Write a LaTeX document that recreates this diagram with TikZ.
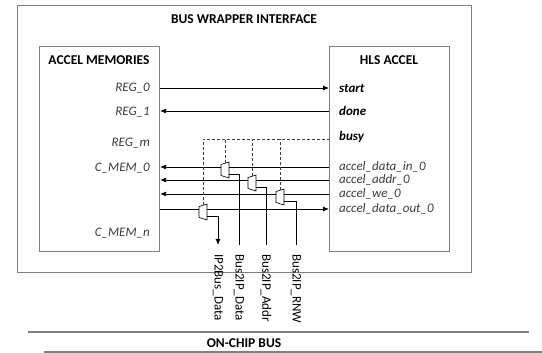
\documentclass[tikz,border=0pt]{standalone}
\usepackage{fontspec}
\setmainfont{Carlito}
\usetikzlibrary{arrows.meta}

\definecolor{framegray}{RGB}{128,128,128}
\definecolor{labelgray}{RGB}{60,60,60}

\tikzset{
  frame/.style={draw=framegray, line width=1.1pt},
  sig/.style={draw=black, line width=0.8pt},
  sigarrow/.style={sig, -{Latex[length=6pt,width=5pt]}},
  selline/.style={draw=black!75, line width=0.8pt, dash pattern=on 3pt off 2pt},
  title/.style={font=\bfseries\fontsize{13.5}{15}\selectfont, inner sep=0pt},
  memlabel/.style={anchor=east, text=labelgray, font=\itshape\fontsize{13}{15}\selectfont, inner sep=0pt},
  ctrllabel/.style={anchor=west, font=\bfseries\itshape\fontsize{13}{15}\selectfont, inner sep=0pt},
  portlabel/.style={anchor=west, text=labelgray, font=\itshape\fontsize{13}{15}\selectfont, inner sep=0pt},
  buslabel/.style={rotate=-90, anchor=west, font=\fontsize{13}{15}\selectfont, inner xsep=9pt, inner ysep=0pt},
  mux/.pic={
    \draw[black, line width=0.6pt, fill=white] (-4,-5.5) -- (4,-8) -- (4,8) -- (-4,5.5) -- cycle;
    \coordinate (-sel) at (0,-6.75);
    \coordinate (-out) at (4,4);
  }
}

\begin{document}
\begin{tikzpicture}[x=1pt,y=-1pt]
\useasboundingbox (0,0) rectangle (542,353);

% wrapper and the two blocks
\node[frame, anchor=north west, minimum width=454pt, minimum height=267pt] (wrap) at (17,5) {};
\node[title] (wraptitle) at (244,19) {BUS WRAPPER INTERFACE};

\node[frame, anchor=north west, minimum width=120pt, minimum height=205pt] (mem) at (39,46) {};
\node[title] (memtitle) at (99,60) {ACCEL MEMORIES};

\node[frame, anchor=north west, minimum width=120pt, minimum height=205pt] (hls) at (329,46) {};
\node[title] (hlstitle) at (389,60) {HLS ACCEL};

% labels, memory side
\node[memlabel] (reg0) at (150,88) {REG\_0};
\node[memlabel] (reg1) at (150,112) {REG\_1};
\node[memlabel] (regm) at (150,143) {REG\_m};
\node[memlabel] (cmem0) at (150,168) {C\_MEM\_0};
\node[memlabel] (cmemn) at (150,233) {C\_MEM\_n};

% labels, accelerator side
\node[ctrllabel] (start) at (339,88) {start};
\node[ctrllabel] (done) at (339,111) {done};
\node[ctrllabel] (busy) at (339,137) {busy};
\node[portlabel] (din) at (339,167) {accel\_data\_in\_0};
\node[portlabel] (addr) at (339,180) {accel\_addr\_0};
\node[portlabel] (we) at (339,194) {accel\_we\_0};
\node[portlabel] (dout) at (339,209) {accel\_data\_out\_0};

% control and data lines
\draw[sigarrow] (mem.east |- start) -- (hls.west |- start);
\draw[sigarrow] (hls.west |- done) -- (mem.east |- done);
\draw[sigarrow] (hls.west |- din) -- (mem.east |- din);
\draw[sigarrow] (hls.west |- addr) -- (mem.east |- addr);
\draw[sigarrow] (hls.west |- we) -- (mem.east |- we);
\draw[sigarrow] (mem.east |- dout) -- (hls.west |- dout);

% multiplexers
\pic (mx1) at (225,170) {mux};
\pic (mx2) at (252,183) {mux};
\pic (mx3) at (280,197) {mux};
\pic (mx0) at (203,212) {mux};

% select lines from busy
\coordinate (busyend) at (329,139);
\draw[selline] (mx0-sel) |- (busyend);
\draw[selline] (mx1-sel) -- (mx1-sel |- busyend);
\draw[selline] (mx2-sel) -- (mx2-sel |- busyend);
\draw[selline] (mx3-sel) -- (mx3-sel |- busyend);

% bus signal labels
\node[buslabel] (ip2bus) at (218,245) {IP2Bus\_Data};
\node[buslabel] (bdata) at (239,245) {Bus2IP\_Data};
\node[buslabel] (baddr) at (266,245) {Bus2IP\_Addr};
\node[buslabel] (brnw) at (296,245) {Bus2IP\_RNW};

\draw[sigarrow] (mx0-out) -| (ip2bus.west);
\draw[sig] (mx1-out) -| (bdata.west);
\draw[sig] (mx2-out) -| (baddr.west);
\draw[sig] (mx3-out) -| (brnw.west);

% on-chip bus
\coordinate (busa) at (28,332);
\coordinate (busb) at (529,332);
\coordinate (busc) at (44,352);
\coordinate (busd) at (542,352);
\draw[frame] (busa) -- (busb);
\draw[frame] (busc) -- (busd);
\node[title] (bustitle) at (244,343) {ON-CHIP BUS};
\end{tikzpicture}
\end{document}
